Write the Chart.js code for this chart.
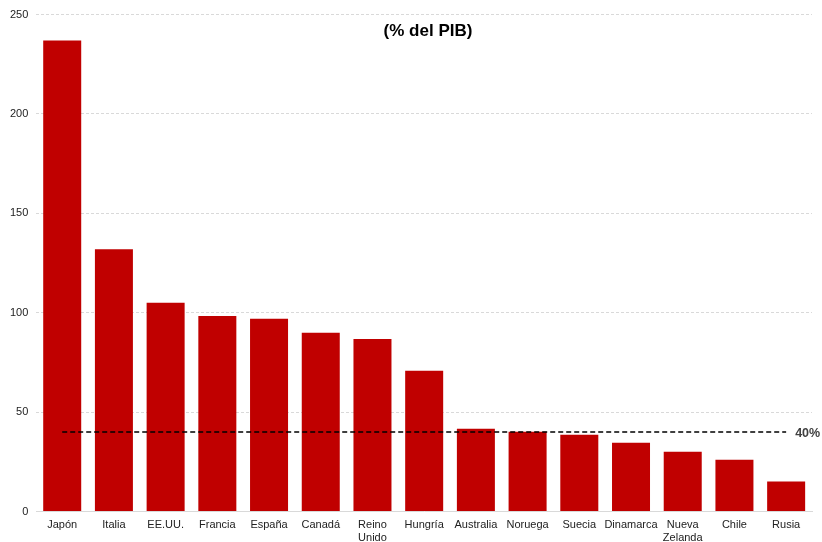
<!DOCTYPE html>
<html>
<head>
<meta charset="utf-8">
<script src="https://cdn.jsdelivr.net/npm/chart.js@4/dist/chart.umd.min.js"></script>
<style>
  html, body { margin: 0; padding: 0; background: #fff; }
  #wrap { width: 822px; height: 542px; }
</style>
</head>
<body>
<div id="wrap"><canvas id="chart"></canvas></div>
<script>
const countries = ['Japón', 'Italia', 'EE.UU.', 'Francia', 'España', 'Canadá', ['Reino', 'Unido'],
    'Hungría', 'Australia', 'Noruega', 'Suecia', 'Dinamarca', ['Nueva', 'Zelanda'], 'Chile', 'Rusia'];
const debt = [237, 132, 105, 98.4, 97, 90, 86.8, 70.8, 41.7, 40.2, 38.7, 34.6, 30.1, 26.1, 15.1];
const threshold = countries.map(() => 40);
const yTicks = [0, 50, 100, 150, 200, 250];
const titleText = '(% del PIB)';
const thresholdLabel = '40%';

const FONT = '"Liberation Sans", Arial, sans-serif';

// title inside plot + label at the end of the dashed line
const overlay = {
    id: 'overlay',
    afterDatasetsDraw(chart) {
        const ctx = chart.ctx;
        const area = chart.chartArea;
        ctx.save();
        ctx.fillStyle = '#000';
        ctx.font = 'bold 17px ' + FONT;
        ctx.textAlign = 'center';
        ctx.textBaseline = 'middle';
        ctx.fillText(titleText, 428, area.top + 17);

        const meta = chart.getDatasetMeta(1);
        const last = meta.data[meta.data.length - 1];
        ctx.fillStyle = '#404040';
        ctx.font = 'bold 12.5px ' + FONT;
        ctx.textAlign = 'left';
        ctx.fillText(thresholdLabel, last.x + 9, last.y + 1);
        ctx.restore();
    }
};

new Chart(document.getElementById('chart'), {
    data: {
        labels: countries,
        datasets: [
            {
                type: 'bar',
                data: debt,
                backgroundColor: '#C00000',
                borderWidth: 0,
                categoryPercentage: 1,
                barPercentage: 0.735,
                order: 2
            },
            {
                type: 'line',
                data: threshold,
                borderColor: '#000',
                borderWidth: 1.5,
                borderDash: [5, 3],
                pointRadius: 0,
                fill: false,
                order: 1
            }
        ]
    },
    options: {
        responsive: true,
        maintainAspectRatio: false,
        animation: false,
        layout: { padding: { top: 6, right: 10, left: 2, bottom: 0 } },
        plugins: {
            legend: { display: false },
            tooltip: { enabled: false }
        },
        scales: {
            x: {
                grid: { display: false, drawTicks: false },
                border: { display: true, color: '#d9d9d9' },
                ticks: {
                    color: '#222',
                    font: { family: FONT, size: 11 },
                    maxRotation: 0,
                    autoSkip: false,
                    padding: 7
                },
                afterFit(axis) {
                    axis.height -= 10;
                }
            },
            y: {
                min: 0,
                max: 250,
                afterBuildTicks(axis) {
                    axis.ticks = yTicks.map(v => ({ value: v }));
                },
                grid: {
                    color: '#d9d9d9',
                    drawTicks: false,
                    tickLength: 0
                },
                border: { display: false, dash: [3, 2] },
                ticks: {
                    color: '#222',
                    font: { family: FONT, size: 11 },
                    padding: 8
                }
            }
        }
    },
    plugins: [overlay]
});
</script>
</body>
</html>
